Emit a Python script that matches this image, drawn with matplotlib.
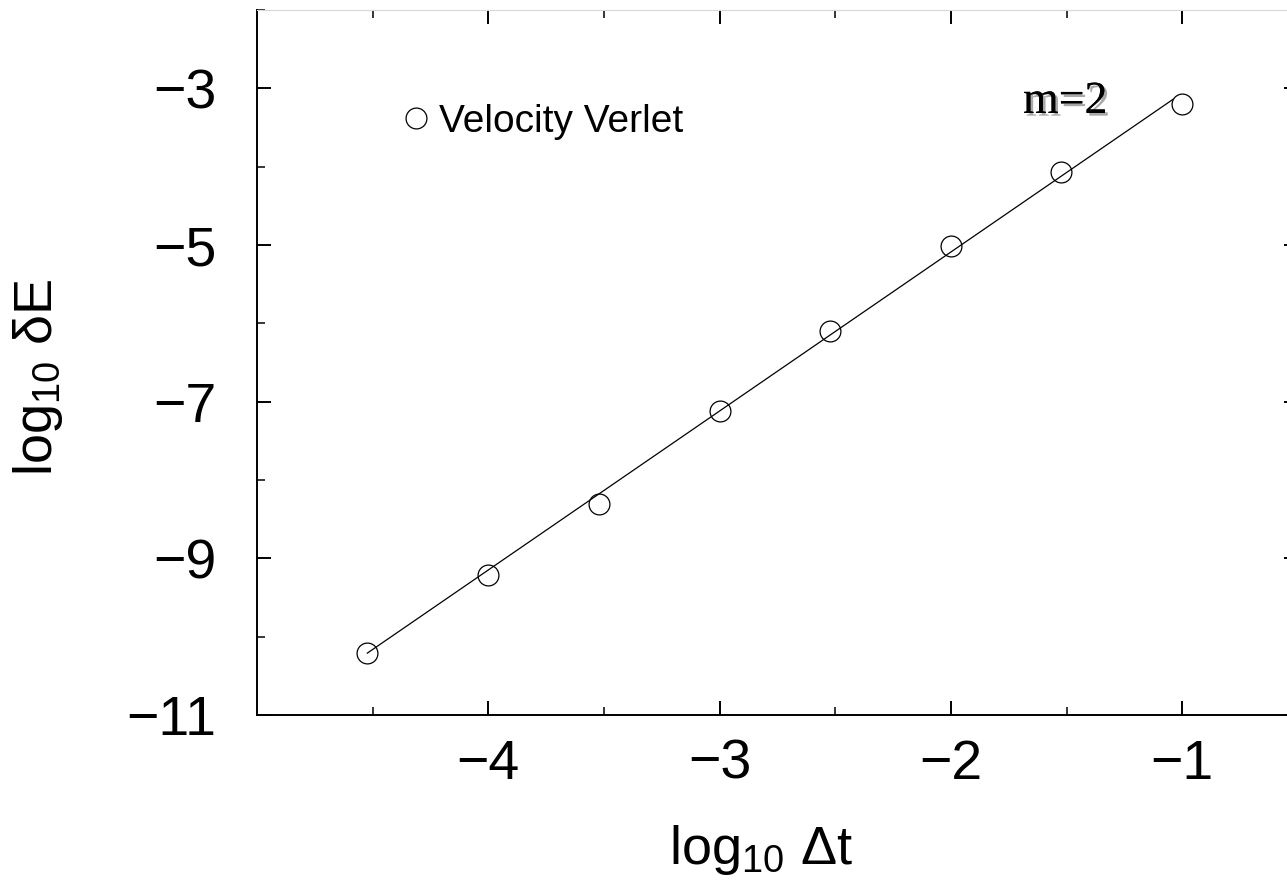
import matplotlib
matplotlib.use("Agg")
import matplotlib.pyplot as plt
import matplotlib.patheffects as pe
import numpy as np

plt.rcParams['font.family'] = ['Liberation Sans', 'DejaVu Sans']
plt.rcParams['mathtext.fontset'] = 'custom'
plt.rcParams['mathtext.rm'] = 'Liberation Sans'
plt.rcParams['mathtext.it'] = 'Liberation Sans:italic'
plt.rcParams['axes.unicode_minus'] = True

# log10 of time step and energy error (Velocity Verlet)
log_dt = [-4.523, -4.0, -3.523, -3.0, -2.523, -2.0, -1.523, -1.0]
log_dE = [-10.21, -9.21, -8.30, -7.12, -6.10, -5.01, -4.07, -3.20]

# fitted line, slope about 2
fit_x = [-4.523, -1.04]
fit_y = [-10.21, -3.14]

xticks = [-4, -3, -2, -1]
yticks = [-11, -9, -7, -5, -3]

W, H = 1287, 884
fig = plt.figure(figsize=(W / 100, H / 100), dpi=100)
ax = fig.add_axes([257 / W, 1 - 715 / H, (1298 - 257) / W, (715 - 10) / H])

ax.plot(fit_x, fit_y, color='black', lw=0.9, zorder=2)
ax.plot(log_dt, log_dE, linestyle='none', marker='o', ms=15, mfc='none',
        mec='black', mew=0.9, label='Velocity Verlet', zorder=3)

ax.set_xlim(-5, -0.5)
ax.set_ylim(-11, -2)
ax.set_xticks(xticks)
ax.set_yticks(yticks)
ax.set_xticks(np.arange(-4.5, -0.4, 1.0), minor=True)
ax.set_yticks(np.arange(-10, -1.5, 2.0), minor=True)

ax.tick_params(which='both', direction='in', top=True, right=True, color='black')
ax.tick_params(which='major', length=10, width=1.4, labelsize=40)
ax.tick_params(which='minor', length=5.5, width=1.1)
ax.tick_params(axis='x', which='major', pad=17)
ax.tick_params(axis='y', which='major', pad=29)

for s in ['left', 'bottom', 'right']:
    ax.spines[s].set_linewidth(1.4)
ax.spines['top'].set_color('#d8d8d8')
ax.spines['top'].set_linewidth(0.8)

ax.set_xlabel(r'log$_{\rm 10}$ Δt', fontsize=39, va='center')
ax.xaxis.set_label_coords((761 - 257) / 1041, (715 - 850) / 705)
ax.set_ylabel(r'log$_{\rm 10}$ δE', fontsize=39, va='center')
ax.yaxis.set_label_coords((38 - 257) / 1041, (715 - 377) / 705)

leg = ax.legend(loc='center left', bbox_to_anchor=((400 - 257) / 1041, 0.841),
                frameon=False, fontsize=28, numpoints=1, handlelength=0.8,
                handletextpad=0.2, borderpad=0, borderaxespad=0)

ax.text(-1.506, -3.17, 'm=2', fontsize=33, family='Liberation Serif',
        ha='center', va='center',
        path_effects=[pe.withSimplePatchShadow(offset=(2, -2), shadow_rgbFace='#555555', alpha=0.5),
                      pe.Normal()])

fig.savefig('out.png', dpi=100)
